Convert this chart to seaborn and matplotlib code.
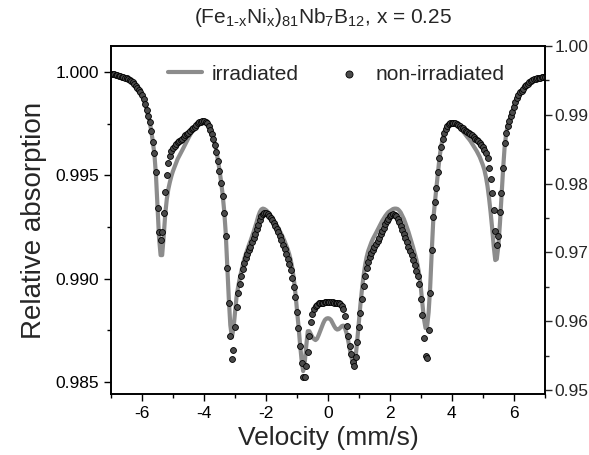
import matplotlib
matplotlib.use("Agg")
import matplotlib.pyplot as plt
import numpy as np
import seaborn as sns
from matplotlib.ticker import FormatStrFormatter, MultipleLocator

# Mossbauer spectra, (Fe1-xNix)81Nb7B12 with x = 0.25
# velocity channels, -7 ... 7 mm/s in steps of 0.05
velocity = np.linspace(-7, 7, 281)

non_irradiated = [
    0.99990, 0.99990, 0.99988, 0.99985, 0.99985, 0.99983, 0.99981, 0.99978, 0.99976, 0.99973,
    0.99971, 0.99966, 0.99961, 0.99956, 0.99952, 0.99942, 0.99932, 0.99923, 0.99913, 0.99903,
    0.99889, 0.99869, 0.99845, 0.99816, 0.99787, 0.99758, 0.99714, 0.99661, 0.99608, 0.99516,
    0.99342, 0.99226, 0.99187, 0.99226, 0.99318, 0.99419, 0.99501, 0.99560, 0.99593, 0.99618,
    0.99632, 0.99642, 0.99652, 0.99659, 0.99666, 0.99671, 0.99678, 0.99685, 0.99693, 0.99700,
    0.99707, 0.99714, 0.99722, 0.99729, 0.99736, 0.99743, 0.99751, 0.99756, 0.99760, 0.99763,
    0.99763, 0.99758, 0.99751, 0.99739, 0.99719, 0.99700, 0.99676, 0.99647, 0.99613, 0.99569,
    0.99521, 0.99463, 0.99400, 0.99318, 0.99206, 0.99051, 0.98882, 0.98722, 0.98611, 0.98654,
    0.98766, 0.98863, 0.98930, 0.98974, 0.99013, 0.99047, 0.99076, 0.99100, 0.99119, 0.99138,
    0.99155, 0.99177, 0.99197, 0.99218, 0.99240, 0.99262, 0.99284, 0.99301, 0.99313, 0.99320,
    0.99320, 0.99315, 0.99305, 0.99296, 0.99284, 0.99269, 0.99255, 0.99240, 0.99226, 0.99206,
    0.99187, 0.99165, 0.99143, 0.99119, 0.99095, 0.99071, 0.99042, 0.99003, 0.98959, 0.98911,
    0.98838, 0.98761, 0.98674, 0.98592, 0.98524, 0.98524, 0.98577, 0.98645, 0.98722, 0.98790,
    0.98829, 0.98853, 0.98867, 0.98875, 0.98880, 0.98882, 0.98884, 0.98884, 0.98885, 0.98885,
    0.98885, 0.98885, 0.98885, 0.98885, 0.98884, 0.98883, 0.98882, 0.98880, 0.98877, 0.98870,
    0.98853, 0.98819, 0.98771, 0.98722, 0.98674, 0.98635, 0.98596, 0.98577, 0.98621, 0.98693,
    0.98766, 0.98834, 0.98901, 0.98964, 0.99013, 0.99051, 0.99080, 0.99105, 0.99124, 0.99138,
    0.99153, 0.99168, 0.99182, 0.99199, 0.99214, 0.99230, 0.99247, 0.99264, 0.99279, 0.99291,
    0.99301, 0.99308, 0.99313, 0.99310, 0.99303, 0.99291, 0.99274, 0.99255, 0.99235, 0.99218,
    0.99199, 0.99177, 0.99155, 0.99136, 0.99114, 0.99090, 0.99066, 0.99039, 0.99013, 0.98974,
    0.98901, 0.98824, 0.98713, 0.98626, 0.98616, 0.98751, 0.98930, 0.99138, 0.99298, 0.99371,
    0.99439, 0.99516, 0.99584, 0.99637, 0.99676, 0.99705, 0.99724, 0.99739, 0.99746, 0.99751,
    0.99753, 0.99753, 0.99751, 0.99748, 0.99743, 0.99739, 0.99731, 0.99727, 0.99719, 0.99714,
    0.99710, 0.99705, 0.99700, 0.99693, 0.99685, 0.99678, 0.99671, 0.99664, 0.99656, 0.99647,
    0.99635, 0.99622, 0.99608, 0.99584, 0.99535, 0.99482, 0.99414, 0.99332, 0.99230, 0.99163,
    0.99206, 0.99322, 0.99414, 0.99535, 0.99656, 0.99705, 0.99739, 0.99763, 0.99787, 0.99806,
    0.99831, 0.99855, 0.99874, 0.99889, 0.99901, 0.99910, 0.99920, 0.99930, 0.99937, 0.99944,
    0.99952, 0.99956, 0.99961, 0.99964, 0.99966, 0.99969, 0.99971, 0.99973, 0.99976, 0.99976,
    0.99978,
]

irradiated = [
    0.99990, 0.99990, 0.99988, 0.99985, 0.99985, 0.99983, 0.99981, 0.99978, 0.99976, 0.99973,
    0.99971, 0.99966, 0.99961, 0.99956, 0.99952, 0.99942, 0.99932, 0.99923, 0.99913, 0.99903,
    0.99889, 0.99869, 0.99845, 0.99816, 0.99787, 0.99758, 0.99714, 0.99661, 0.99603, 0.99501,
    0.99347, 0.99197, 0.99114, 0.99114, 0.99206, 0.99313, 0.99385, 0.99434, 0.99468, 0.99497,
    0.99521, 0.99540, 0.99560, 0.99579, 0.99593, 0.99608, 0.99622, 0.99637, 0.99652, 0.99666,
    0.99681, 0.99695, 0.99710, 0.99722, 0.99734, 0.99743, 0.99751, 0.99758, 0.99763, 0.99765,
    0.99765, 0.99760, 0.99753, 0.99741, 0.99724, 0.99705, 0.99681, 0.99652, 0.99618, 0.99574,
    0.99526, 0.99472, 0.99410, 0.99332, 0.99226, 0.99071, 0.98906, 0.98775, 0.98717, 0.98756,
    0.98834, 0.98911, 0.98959, 0.98998, 0.99032, 0.99066, 0.99095, 0.99119, 0.99141, 0.99163,
    0.99182, 0.99204, 0.99226, 0.99250, 0.99274, 0.99301, 0.99322, 0.99335, 0.99339, 0.99337,
    0.99332, 0.99325, 0.99315, 0.99305, 0.99293, 0.99281, 0.99269, 0.99257, 0.99245, 0.99230,
    0.99216, 0.99199, 0.99182, 0.99163, 0.99143, 0.99119, 0.99090, 0.99051, 0.98998, 0.98930,
    0.98853, 0.98771, 0.98684, 0.98606, 0.98553, 0.98592, 0.98674, 0.98746, 0.98746, 0.98732,
    0.98717, 0.98708, 0.98703, 0.98710, 0.98727, 0.98746, 0.98766, 0.98785, 0.98800, 0.98807,
    0.98809, 0.98807, 0.98800, 0.98785, 0.98771, 0.98759, 0.98754, 0.98756, 0.98763, 0.98771,
    0.98773, 0.98761, 0.98737, 0.98703, 0.98664, 0.98625, 0.98596, 0.98587, 0.98630, 0.98708,
    0.98795, 0.98877, 0.98950, 0.99013, 0.99066, 0.99105, 0.99134, 0.99155, 0.99175, 0.99192,
    0.99206, 0.99221, 0.99235, 0.99250, 0.99264, 0.99279, 0.99291, 0.99303, 0.99313, 0.99322,
    0.99327, 0.99332, 0.99337, 0.99339, 0.99339, 0.99337, 0.99330, 0.99320, 0.99305, 0.99289,
    0.99269, 0.99247, 0.99226, 0.99201, 0.99177, 0.99151, 0.99124, 0.99095, 0.99061, 0.99017,
    0.98955, 0.98877, 0.98805, 0.98761, 0.98766, 0.98838, 0.98959, 0.99129, 0.99284, 0.99366,
    0.99439, 0.99516, 0.99584, 0.99637, 0.99676, 0.99705, 0.99724, 0.99739, 0.99746, 0.99751,
    0.99753, 0.99753, 0.99751, 0.99746, 0.99739, 0.99731, 0.99724, 0.99714, 0.99705, 0.99695,
    0.99685, 0.99676, 0.99666, 0.99654, 0.99642, 0.99630, 0.99618, 0.99603, 0.99589, 0.99569,
    0.99550, 0.99526, 0.99492, 0.99448, 0.99390, 0.99322, 0.99245, 0.99158, 0.99090, 0.99095,
    0.99158, 0.99264, 0.99390, 0.99521, 0.99632, 0.99700, 0.99739, 0.99763, 0.99787, 0.99806,
    0.99831, 0.99855, 0.99874, 0.99889, 0.99901, 0.99910, 0.99920, 0.99930, 0.99937, 0.99944,
    0.99952, 0.99956, 0.99961, 0.99964, 0.99966, 0.99969, 0.99971, 0.99973, 0.99976, 0.99976,
    0.99978,
]

sns.set_style("ticks")
plt.rcParams["font.family"] = ["Liberation Sans", "DejaVu Sans"]
plt.rcParams["mathtext.fontset"] = "custom"
plt.rcParams["mathtext.rm"] = "Liberation Sans"
plt.rcParams["mathtext.it"] = "Liberation Sans:italic"
plt.rcParams["axes.unicode_minus"] = False

fig = plt.figure(figsize=(5.89, 4.55), dpi=100)
ax = fig.add_axes([0.1885, 0.134, 0.7365, 0.765])

sns.lineplot(x=velocity, y=irradiated, ax=ax, color="#8c8c8c", linewidth=3,
             label="irradiated", zorder=2)
sns.scatterplot(x=velocity, y=non_irradiated, ax=ax, s=18, color="#4a4a4a",
                edgecolor="black", linewidth=0.6, label="non-irradiated", zorder=3)

ax.set_xlim(-7, 7)
ax.set_ylim(0.98442, 1.00126)
ax.xaxis.set_major_locator(MultipleLocator(2))
ax.xaxis.set_minor_locator(MultipleLocator(1))
ax.yaxis.set_major_locator(MultipleLocator(0.005))
ax.yaxis.set_minor_locator(MultipleLocator(0.0025))
ax.yaxis.set_major_formatter(FormatStrFormatter("%.3f"))
ax.tick_params(which="both", direction="out", width=1, colors="black",
               labelsize=12.5, top=False, right=False)
ax.tick_params(which="major", length=5)
ax.tick_params(which="minor", length=3)

ax2 = ax.twinx()
ax2.set_ylim(0.9494, 1.0)
ax2.yaxis.set_major_locator(MultipleLocator(0.01))
ax2.yaxis.set_minor_locator(MultipleLocator(0.005))
ax2.yaxis.set_major_formatter(FormatStrFormatter("%.2f"))
ax2.tick_params(which="both", direction="out", width=1, labelsize=12.5, pad=2)
ax2.tick_params(which="major", length=5)
ax2.tick_params(which="minor", length=3)

for a in (ax, ax2):
    for sp in a.spines.values():
        sp.set_visible(True)
        sp.set_color("black")
        sp.set_linewidth(1.2)

ax.set_xlabel("Velocity (mm/s)", fontsize=19, labelpad=4)
ax.set_ylabel("Relative absorption", fontsize=20, labelpad=6)

ax.legend(ncol=2, frameon=False, loc="upper center", bbox_to_anchor=(0.52, 1.0),
          fontsize=15, handlelength=1.6, handletextpad=0.5, columnspacing=1.6,
          markerscale=1.2)

fig.text(0.548, 0.962,
         r"$\mathregular{(Fe_{1\text{-}x}Ni_x)_{81}Nb_7B_{12}}$, x = 0.25",
         ha="center", va="center", fontsize=15)

fig.savefig("out.png", dpi=100)
